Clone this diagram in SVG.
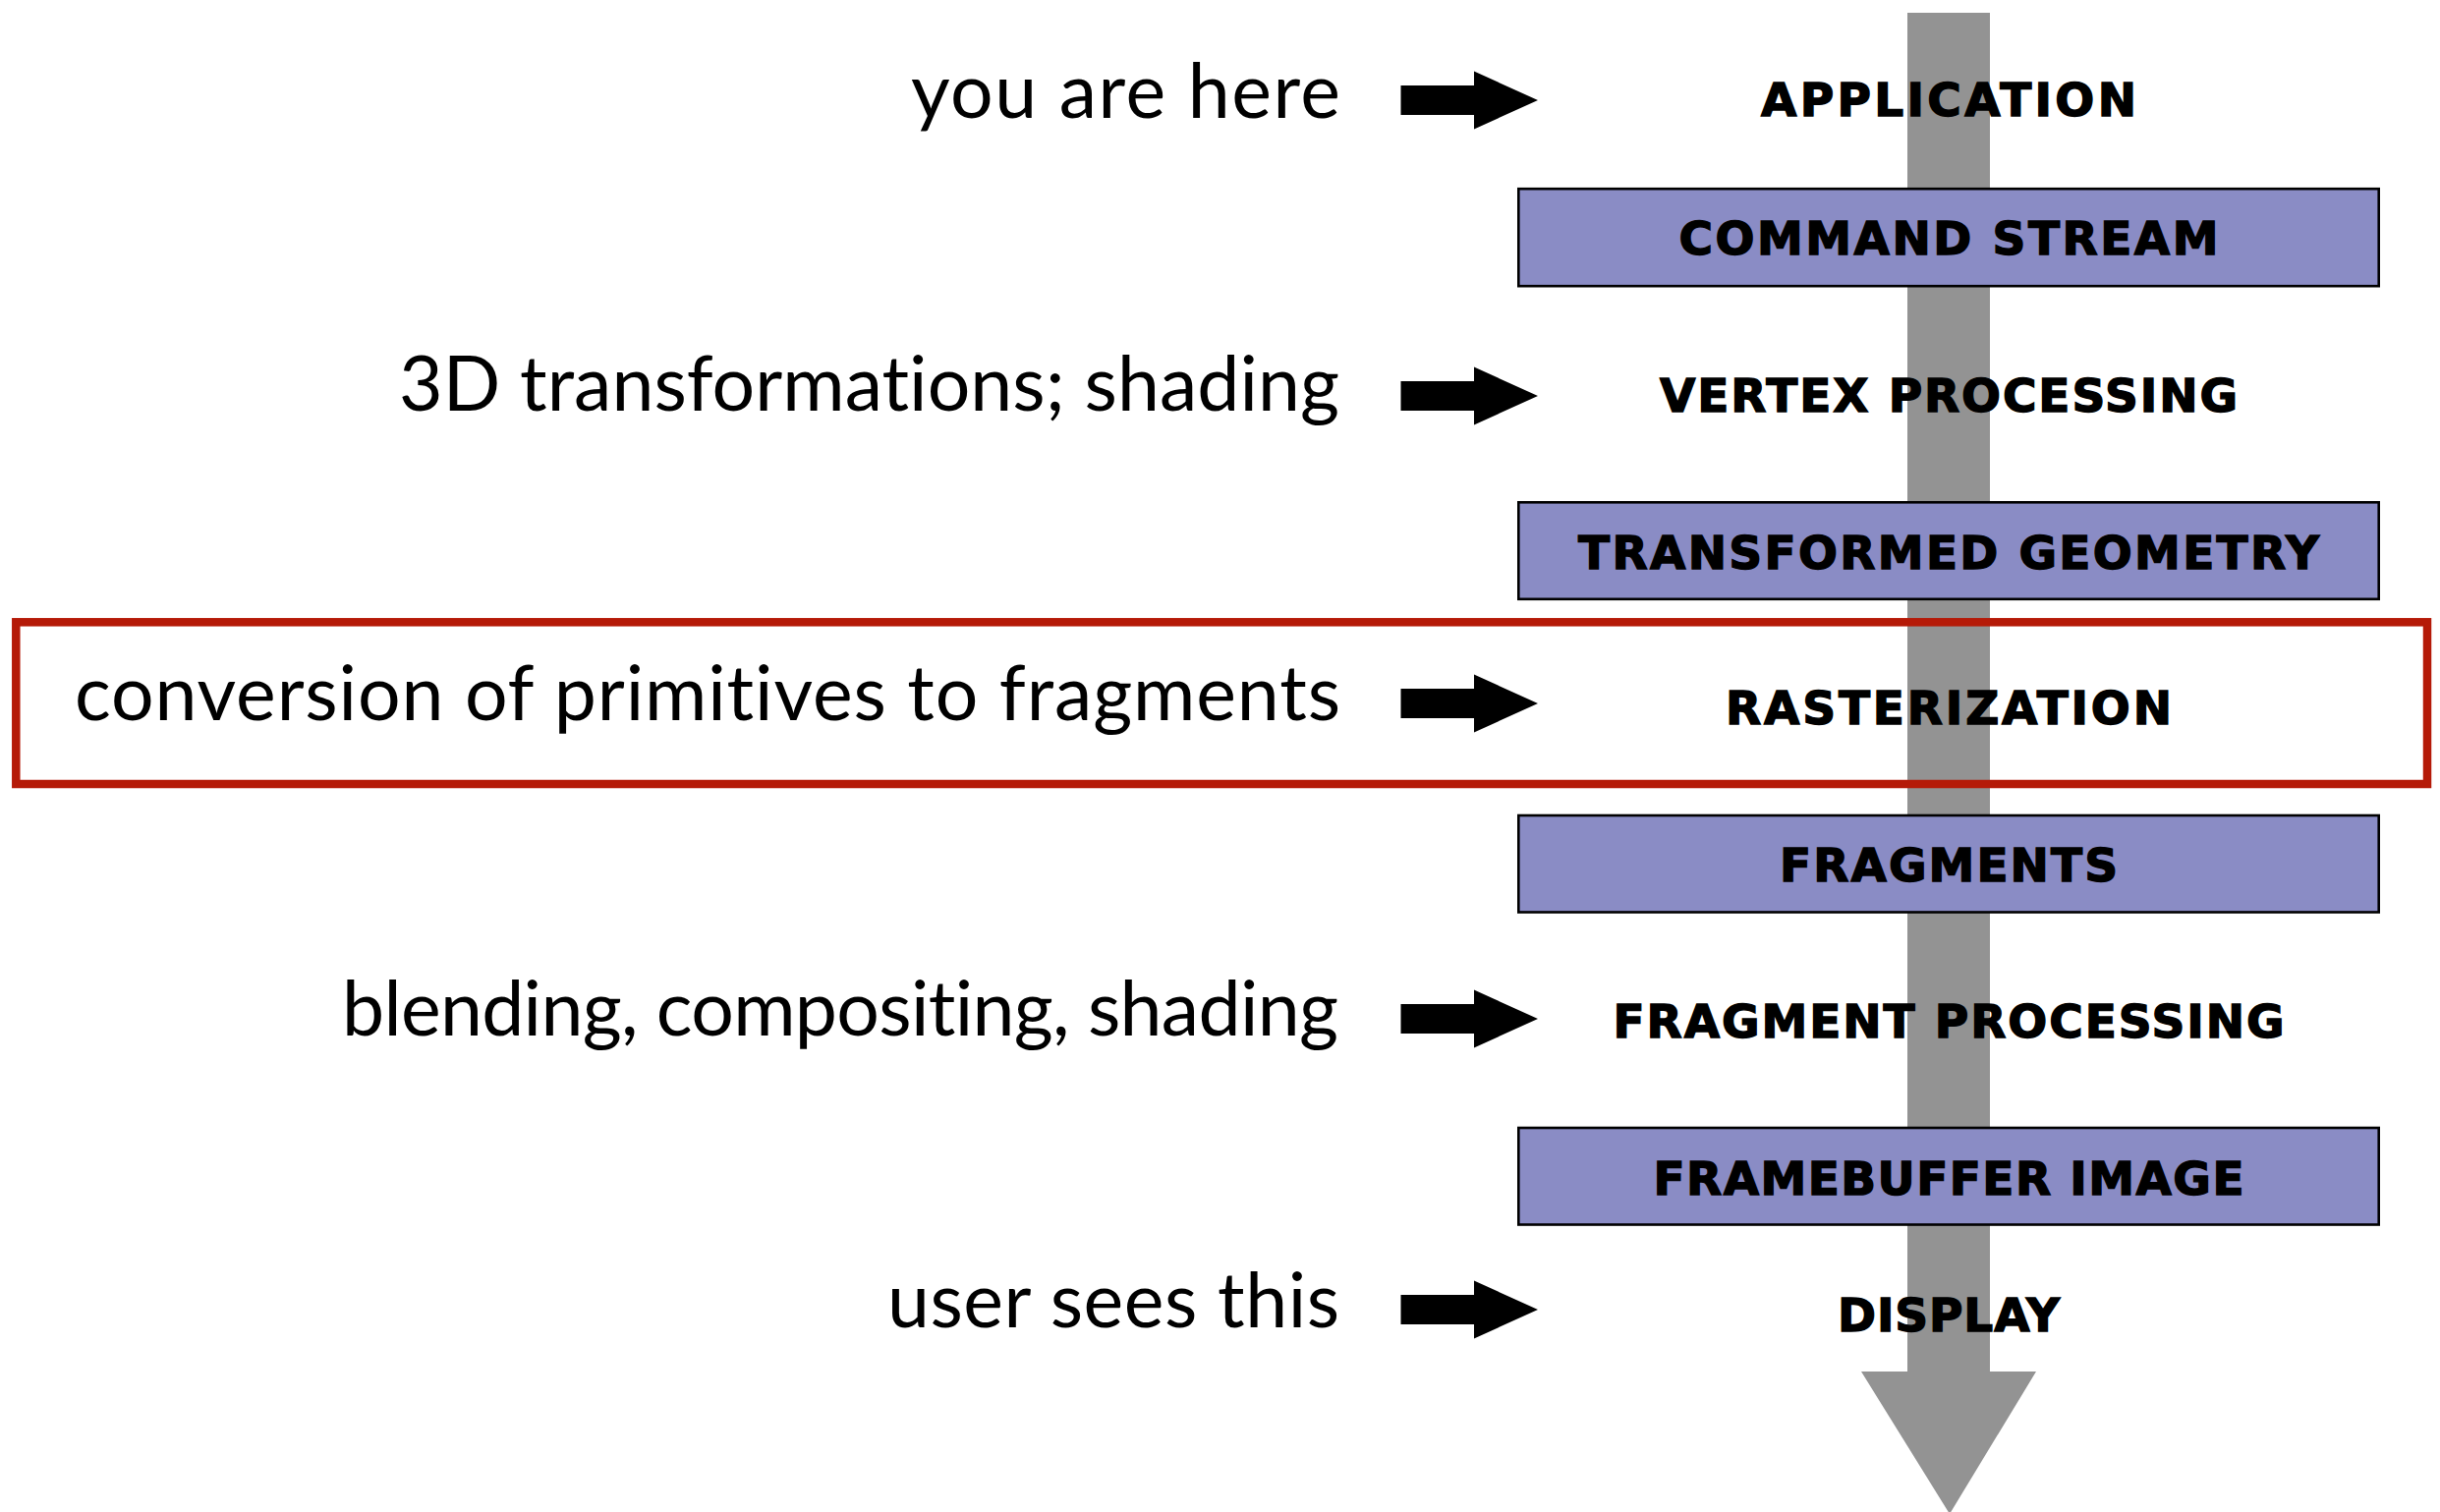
<svg xmlns="http://www.w3.org/2000/svg" width="2483" height="1539" viewBox="0 0 2483 1539">
<style>
.note{font-family:Lato,"Open Sans","DejaVu Sans",sans-serif;font-size:77px;fill:#000;text-anchor:end;font-variant-ligatures:none;font-feature-settings:"liga" 0,"dlig" 0}
.stage{font-family:"DejaVu Sans",Verdana,sans-serif;font-weight:bold;font-size:47px;fill:#000;stroke:#000;stroke-width:1.4;text-anchor:middle}
.box{fill:#8A8CC5;stroke:#000;stroke-width:2.6}
.ptr{fill:#000}
</style>
<defs>
<path id="ptr" d="M0,-15 H74.5 V-29.5 L139.5,0 L74.5,29.5 V15 H0 Z"/>
</defs>
<rect width="2483" height="1539" fill="#fff"/>
<g id="connectors">
<path id="pipeline-arrow" d="M1941,13 H2025 V1396 H2072 L1984,1541 L1894,1396 H1941 Z" fill="#939393"/>
<use href="#ptr" class="ptr" x="1425.5" y="102"/>
<use href="#ptr" class="ptr" x="1425.5" y="403"/>
<use href="#ptr" class="ptr" x="1425.5" y="716"/>
<use href="#ptr" class="ptr" x="1425.5" y="1037"/>
<use href="#ptr" class="ptr" x="1425.5" y="1333"/>
</g>
<g id="highlight">
<rect x="16.3" y="633.3" width="2453.7" height="164.7" fill="none" stroke="#B51A08" stroke-width="8.5"/>
</g>
<g id="note-app"><text class="note" x="1364" y="120" textLength="437">you are here</text></g>
<g id="note-vertex"><text class="note" x="1363" y="418" textLength="957">3D transformations; shading</text></g>
<g id="note-raster"><text class="note" x="1364" y="733" textLength="1288">conversion of primitives to fragments</text></g>
<g id="note-fragment"><text class="note" x="1362" y="1054" textLength="1014">blending, compositing, shading</text></g>
<g id="note-display"><text class="note" x="1363" y="1351" textLength="460">user sees this</text></g>
<g id="application"><text class="stage" x="1983" y="118" textLength="382">APPLICATION</text></g>
<g id="command-stream"><rect class="box" x="1545.3" y="192.2" width="875.4" height="99"/><text class="stage" x="1983" y="259" textLength="549">COMMAND STREAM</text></g>
<g id="vertex-processing"><text class="stage" x="1983" y="419" textLength="588">VERTEX PROCESSING</text></g>
<g id="transformed-geometry"><rect class="box" x="1545.3" y="511.3" width="875.4" height="98.5"/><text class="stage" x="1983" y="579" textLength="754">TRANSFORMED GEOMETRY</text></g>
<g id="rasterization"><text class="stage" x="1983" y="737" textLength="454">RASTERIZATION</text></g>
<g id="fragments"><rect class="box" x="1545.3" y="830" width="875.4" height="98.5"/><text class="stage" x="1983" y="897" textLength="344">FRAGMENTS</text></g>
<g id="fragment-processing"><text class="stage" x="1983" y="1056" textLength="683">FRAGMENT PROCESSING</text></g>
<g id="framebuffer-image"><rect class="box" x="1545.3" y="1148" width="875.4" height="98.5"/><text class="stage" x="1983" y="1216" textLength="601">FRAMEBUFFER IMAGE</text></g>
<g id="display"><text class="stage" x="1983" y="1355" textLength="226">DISPLAY</text></g>
</svg>
